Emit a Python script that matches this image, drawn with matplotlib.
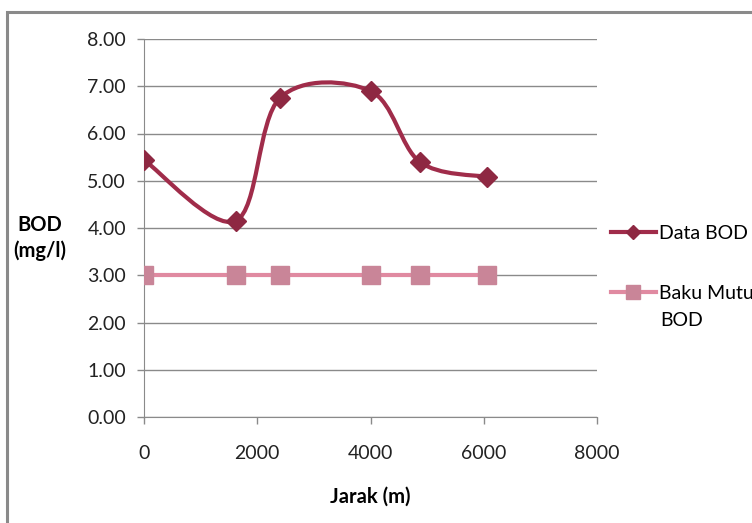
import matplotlib.pyplot as plt
from matplotlib.path import Path
from matplotlib.patches import PathPatch, Rectangle
from matplotlib.lines import Line2D
import numpy as np

# data
jarak = [0, 1620, 2400, 4000, 4870, 6050]
data_bod = [5.44, 4.15, 6.75, 6.90, 5.40, 5.08]
baku_mutu = [3.00, 3.00, 3.00, 3.00, 3.00, 3.00]
y_ticks = [0, 1, 2, 3, 4, 5, 6, 7, 8]
x_ticks = [0, 2000, 4000, 6000, 8000]

plt.rcParams['font.family'] = ['Lato', 'DejaVu Sans']

c_data = '#A02C4A'
c_data_mk = '#8E2842'
c_baku = '#E08AA1'
c_baku_mk = '#C98598'


def smooth_path(xs, ys):
    # Excel-style smoothed line: cubic Bezier segments through the points
    pts = np.column_stack([xs, ys]).astype(float)
    n = len(pts)
    verts = [pts[0]]
    codes = [Path.MOVETO]
    for i in range(n - 1):
        p0 = pts[i - 1] if i > 0 else pts[i]
        p1 = pts[i]
        p2 = pts[i + 1]
        p3 = pts[i + 2] if i + 2 < n else pts[i + 1]
        c1 = p1 + (p2 - p0) / 6.0
        c2 = p2 - (p3 - p1) / 6.0
        verts += [c1, c2, p2]
        codes += [Path.CURVE4] * 3
    return Path(verts, codes)


fig = plt.figure(figsize=(7.52, 5.23), dpi=100)
ax = fig.add_axes([144 / 752, 1 - 417 / 523, (597 - 144) / 752, (417 - 39) / 523])

# outer chart border
fig.patches.append(Rectangle((7 / 752, -0.1), 1.2, 1 - 12 / 523 + 0.1,
                             transform=fig.transFigure, fill=False,
                             edgecolor='#8a8a8a', linewidth=2.2))

ax.add_patch(PathPatch(smooth_path(jarak, data_bod), facecolor='none',
                       edgecolor=c_data, linewidth=3, zorder=3))
ax.plot(jarak, data_bod, linestyle='none', marker='D', markersize=10,
        color=c_data_mk, markeredgecolor=c_data_mk, zorder=4)
ax.plot(jarak, baku_mutu, color=c_baku, linewidth=3, marker='s',
        markersize=13, markerfacecolor=c_baku_mk, markeredgecolor=c_baku_mk,
        zorder=3)

ax.set_xlim(0, 8000)
ax.set_ylim(0, 8)
ax.set_xticks(x_ticks)
ax.set_yticks(y_ticks)
ax.set_yticklabels(['%.2f' % v for v in y_ticks])
ax.set_xticklabels([str(v) for v in x_ticks])
ax.tick_params(axis='both', labelsize=14, color='#8a8a8a', length=5,
               width=1, labelcolor='#222222')
ax.tick_params(axis='x', pad=15)
ax.tick_params(axis='y', pad=8)
ax.grid(axis='y', color='#8a8a8a', linewidth=1)
ax.set_axisbelow(True)
for s in ['top', 'right']:
    ax.spines[s].set_visible(False)
for s in ['left', 'bottom']:
    ax.spines[s].set_color('#8a8a8a')

ax.set_xlabel('Jarak (m)', fontsize=14.5, fontweight='bold', labelpad=18)
fig.text(40 / 752, 1 - 238 / 523, 'BOD\n(mg/l)', fontsize=14.5,
         fontweight='bold', ha='center', va='center', linespacing=1.35)

handles = [
    Line2D([], [], color=c_data, linewidth=3, marker='D', markersize=7,
           markerfacecolor=c_data_mk, markeredgecolor=c_data_mk),
    Line2D([], [], color=c_baku, linewidth=3, marker='s', markersize=10,
           markerfacecolor=c_baku_mk, markeredgecolor=c_baku_mk),
]
fig.legend(handles, ['Data BOD', 'Baku Mutu'], loc='upper left',
           bbox_to_anchor=(611 / 752, 1 - 225 / 523), frameon=False,
           fontsize=14, handlelength=2.3, handletextpad=0.15,
           labelspacing=2.2, borderaxespad=0, borderpad=0)
fig.text(660 / 752, 1 - 321 / 523, 'BOD', fontsize=14, ha='left',
         va='center')

fig.savefig('out.png', dpi=100)
